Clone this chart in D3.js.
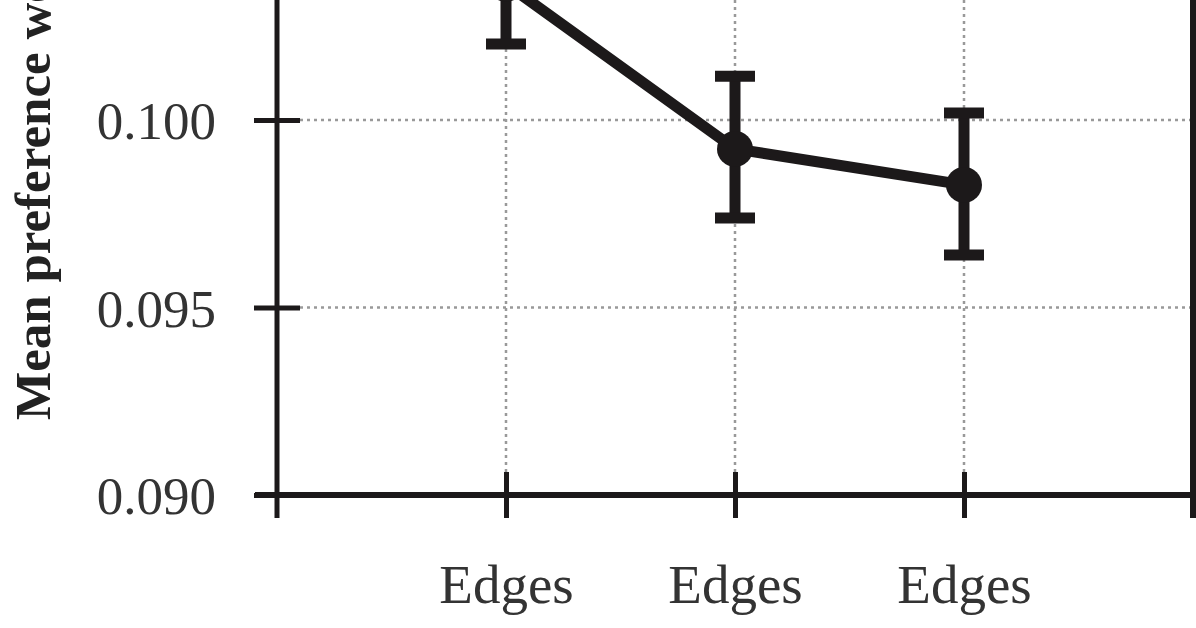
<!DOCTYPE html>
<html>
<head>
<meta charset="utf-8">
<script src="https://cdn.jsdelivr.net/npm/d3@7"></script>
<style>
  body { margin: 0; background: #fff; }
  svg { display: block; }
</style>
</head>
<body>
<script>
// values
const categories = ["g1", "g2", "g3"];
const tickLabels = ["Edges", "Edges", "Edges"];
const means = [0.10363, 0.09923, 0.09827];
const upper = [0.10523, 0.10117, 0.10019];
const lower = [0.10203, 0.09739, 0.09640];
const yTicks = [0.090, 0.095, 0.100];

const w = 1196, h = 628;
const ink = "#1c191a";

const svg = d3.select("body").append("svg")
  .attr("width", w).attr("height", h)
  .style("font-family", "'Liberation Serif', 'DejaVu Serif', serif");

const left = 277, right = 1193, bottom = 495;

const x = d3.scalePoint().domain(categories).range([left, right]).padding(1);
const y = d3.scaleLinear().domain([0.090, 0.110]).range([bottom, bottom - 0.020 * 37500]);

// gridlines
svg.append("g").selectAll("line")
  .data(yTicks.filter(d => d > 0.090))
  .enter().append("line")
  .attr("x1", left + 23).attr("x2", right)
  .attr("y1", d => y(d)).attr("y2", d => y(d))
  .attr("stroke", "#999").attr("stroke-width", 2.5)
  .attr("stroke-dasharray", "3,4");
svg.append("g").selectAll("line")
  .data(categories)
  .enter().append("line")
  .attr("x1", d => x(d)).attr("x2", d => x(d))
  .attr("y1", bottom - 23).attr("y2", y(0.110))
  .attr("stroke", "#999").attr("stroke-width", 2.5)
  .attr("stroke-dasharray", "3,4");

// y axis
const yAxis = svg.append("g")
  .attr("transform", "translate(" + left + ",0)")
  .call(d3.axisLeft(y).tickValues(yTicks).tickSize(23).tickPadding(38)
    .tickFormat(d3.format(".3f")));
yAxis.select(".domain").remove();
yAxis.selectAll(".tick line").attr("x1", -23).attr("x2", 23)
  .attr("stroke", ink).attr("stroke-width", 5);
yAxis.selectAll(".tick text")
  .attr("font-size", 53).attr("fill", "#333")
  .attr("font-family", "'Liberation Serif', serif")
  .attr("dy", "0.35em");

// x axis
const xAxis = svg.append("g")
  .attr("transform", "translate(0," + bottom + ")")
  .call(d3.axisBottom(x).tickSize(23).tickPadding(46)
    .tickFormat((d, i) => tickLabels[i]));
xAxis.select(".domain").remove();
xAxis.selectAll(".tick line").attr("y1", -23).attr("y2", 23)
  .attr("stroke", ink).attr("stroke-width", 5);
xAxis.selectAll(".tick text")
  .attr("font-size", 55).attr("fill", "#333")
  .attr("font-family", "'Liberation Serif', serif");

// frame
svg.append("line").attr("x1", left).attr("x2", left)
  .attr("y1", y(0.110)).attr("y2", bottom + 23)
  .attr("stroke", ink).attr("stroke-width", 5);
svg.append("line").attr("x1", right).attr("x2", right)
  .attr("y1", y(0.110)).attr("y2", bottom + 23)
  .attr("stroke", ink).attr("stroke-width", 6);
svg.append("line").attr("x1", left - 22).attr("x2", right)
  .attr("y1", bottom).attr("y2", bottom)
  .attr("stroke", ink).attr("stroke-width", 6);

// y label
svg.append("text")
  .attr("transform", "translate(50,420) rotate(-90)")
  .attr("font-size", 51).attr("font-weight", "bold").attr("fill", "#222")
  .text("Mean preference weight");

// error bars
const bars = svg.append("g").selectAll("g")
  .data(categories)
  .enter().append("g");
bars.append("line")
  .attr("x1", d => x(d)).attr("x2", d => x(d))
  .attr("y1", (d, i) => y(upper[i])).attr("y2", (d, i) => y(lower[i]))
  .attr("stroke", ink).attr("stroke-width", 11);
bars.append("line")
  .attr("x1", d => x(d) - 20).attr("x2", d => x(d) + 20)
  .attr("y1", (d, i) => y(upper[i])).attr("y2", (d, i) => y(upper[i]))
  .attr("stroke", ink).attr("stroke-width", 11);
bars.append("line")
  .attr("x1", d => x(d) - 20).attr("x2", d => x(d) + 20)
  .attr("y1", (d, i) => y(lower[i])).attr("y2", (d, i) => y(lower[i]))
  .attr("stroke", ink).attr("stroke-width", 11);

// mean line and points
const line = d3.line().x((d, i) => x(categories[i])).y(d => y(d));
svg.append("path").datum(means)
  .attr("d", line)
  .attr("fill", "none").attr("stroke", ink).attr("stroke-width", 11)
  .attr("stroke-linejoin", "round");
svg.append("g").selectAll("circle")
  .data(means)
  .enter().append("circle")
  .attr("cx", (d, i) => x(categories[i]))
  .attr("cy", d => y(d))
  .attr("r", 18)
  .attr("fill", ink);
</script>
</body>
</html>
